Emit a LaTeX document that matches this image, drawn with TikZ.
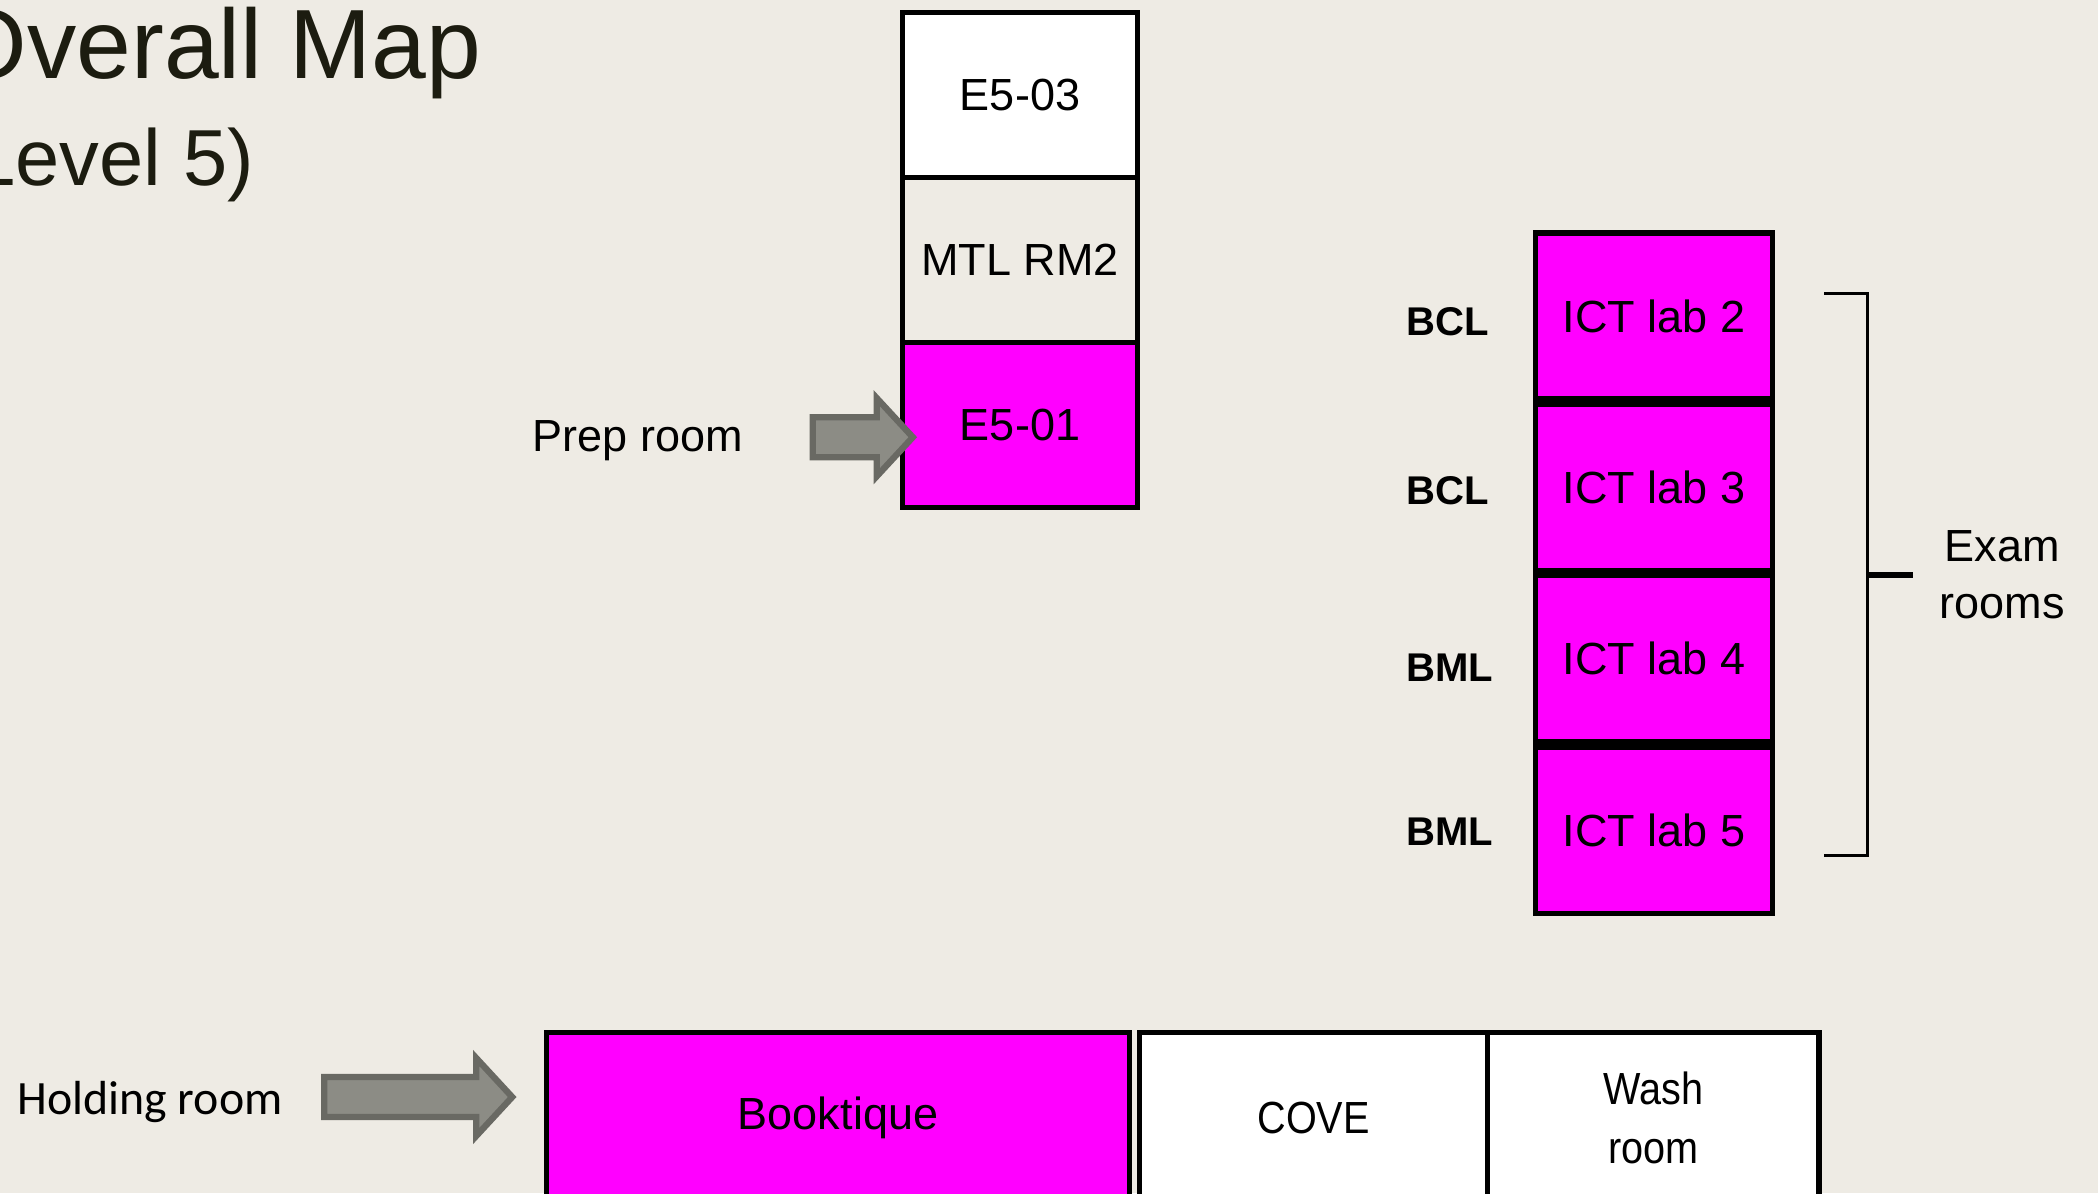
\documentclass[tikz,border=0pt]{standalone}
\usepackage{fontspec}
\setmainfont{Liberation Sans}
\newfontfamily\calibrifont{Carlito}
\newfontfamily\narrowfont[FakeStretch=0.88]{Liberation Sans}
\usetikzlibrary{positioning}
\definecolor{paper}{HTML}{EEEBE4}
\definecolor{roompink}{HTML}{FF00FF}
\definecolor{arrowfill}{HTML}{8C8C85}
\definecolor{arrowline}{HTML}{696963}
\definecolor{titleink}{HTML}{1C1C10}
\begin{document}
\begin{tikzpicture}[x=0.01cm, y=-0.01cm]
  \tikzstyle{room}=[draw=black, line width=1.5pt, minimum width=2.35cm, minimum height=1.65cm, inner sep=0pt, font=\fontsize{12.8}{15}\selectfont]
  \tikzstyle{lab}=[room, fill=roompink, minimum width=2.37cm, minimum height=1.66cm]
  \tikzstyle{hall}=[room, fill=white, minimum height=1.71cm, font=\narrowfont\fontsize{12.8}{16.8}\selectfont, align=center]
  \tikzstyle{tag}=[font=\fontsize{12.8}{16.2}\selectfont, align=center]
  \tikzstyle{unit}=[anchor=west, font=\bfseries\fontsize{11.4}{14}\selectfont]
  \tikzstyle{blockarrow}=[fill=arrowfill, draw=arrowline, line width=1.8pt, line join=miter]
  \fill[paper] (0,0) rectangle (2098,1193);
  \useasboundingbox (0,0) rectangle (2098,1193);

  \node[anchor=base west, inner sep=0pt, text=titleink, font=\fontsize{28}{32}\selectfont] (title) at (-50,78) {Overall Map};
  \node[anchor=base west, inner sep=0pt, text=titleink, font=\fontsize{22.6}{26}\selectfont] (level) at (-56,185) {(Level 5)};

  \node[room, fill=white] (e503) at (1020,95) {E5-03};
  \node[room, below=-1.5pt of e503] (mtl) {MTL RM2};
  \node[room, fill=roompink, below=-1.5pt of mtl] (e501) {E5-01};

  \node[lab] (lab2) at (1654,316) {ICT lab 2};
  \node[lab, below=0pt of lab2] (lab3) {ICT lab 3};
  \node[lab, below=0pt of lab3] (lab4) {ICT lab 4};
  \node[lab, below=0pt of lab4] (lab5) {ICT lab 5};

  \node[unit] (bcl2) at (1394,322) {BCL};
  \node[unit] (bcl3) at (1394,491) {BCL};
  \node[unit] (bml4) at (1394,668) {BML};
  \node[unit] (bml5) at (1394,832) {BML};

  \node[room, fill=roompink, minimum width=5.82cm, minimum height=1.71cm] (book) at (838,1118) {Booktique};
  \node[hall, minimum width=3.48cm, right=0.05cm of book] (cove) {COVE};
  \node[hall, minimum width=3.31cm, right=-1.5pt of cove] (wash) {Wash\\room};

  \node[tag] (prep) at (638,441) {Prep room};
  \node[font=\calibrifont\fontsize{13.6}{16}\selectfont] (hold) at (150,1102) {Holding room};

  \draw[blockarrow] (e501.west) ++(13,12) -- ++(-36,39) -- ++(0,-19) -- ++(-64,0) -- ++(0,-40) -- ++(64,0) -- ++(0,-19) -- cycle;
  \draw[blockarrow] (book.west) ++(-32,-21) -- ++(-36,39) -- ++(0,-19) -- ++(-152,0) -- ++(0,-40) -- ++(152,0) -- ++(0,-19) -- cycle;

  \draw[line width=0.85pt] (1824,293) -| (1867,855) -- (1824,855);
  \draw[line width=1.6pt] (1866,575) -- (1913,575) coordinate (tick);
  \node[tag] (exam) at (2002,575) {Exam\\rooms};
\end{tikzpicture}
\end{document}
